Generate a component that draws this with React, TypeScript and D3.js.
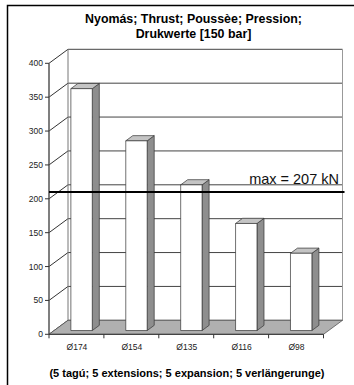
import React from "react";
import * as d3 from "d3";

const categories = ["Ø174", "Ø154", "Ø135", "Ø116", "Ø98"];
const values = [357, 280, 215, 158, 114];
const yTicks = [0, 50, 100, 150, 200, 250, 300, 350, 400];
const maxValue = 207;
const maxLabel = "max = 207 kN";
const titleLines = ["Nyomás; Thrust; Poussèe; Pression;", "Drukwerte [150 bar]"];
const footer = "(5 tagú; 5 extensions; 5 expansion; 5 verlängerunge)";

const W = 354;
const H = 385;
const DX = 19;
const DY = -14;
const FONT = "Liberation Sans, Arial, sans-serif";

export default function App() {
  const y = d3.scaleLinear().domain([0, 400]).range([334.3, 63.3]);
  const x = d3.scaleBand<string>().domain(categories).range([49, 323.5]).paddingInner(0).paddingOuter(0);
  const x0 = x.range()[0];
  const x1 = x.range()[1];
  const y0 = y(0);
  const yTop = y(400);

  const fFront = 0.27; // bar front depth fraction
  const fBack = 0.64; // bar back depth fraction
  const barW = x.bandwidth() * 0.39;

  const pts = (a: number[][]) => a.map((p) => p.join(",")).join(" ");

  const maxDepth = 0.15;
  const maxY = y(maxValue) + DY * maxDepth;

  return (
    <svg
      width={W}
      height={H}
      style={{ position: "absolute", left: 0, top: 0, background: "#fff" }}
      fontFamily={FONT}
    >
      {/* frame */}
      <rect x={7.5} y={5.5} width={W + 20} height={H + 20} fill="#fff" stroke="#000" strokeWidth={1.5} />

      {/* title */}
      {titleLines.map((t, i) => (
        <text key={t} x={193.5} y={23 + i * 14.5} textAnchor="middle" fontWeight="bold" fontSize={12.4} fill="#000">
          {t}
        </text>
      ))}

      {/* back wall */}
      <rect x={x0 + DX} y={yTop + DY} width={x1 - x0} height={y0 - yTop} fill="#fff" stroke="none" />
      {/* left wall */}
      <polygon points={pts([[x0, y0], [x0, yTop], [x0 + DX, yTop + DY], [x0 + DX, y0 + DY]])} fill="#fff" />

      {/* gridlines */}
      {yTicks.map((v) => (
        <g key={v}>
          <line x1={x0} y1={y(v)} x2={x0 + DX} y2={y(v) + DY} stroke="#333" strokeWidth={1} />
          <line x1={x0 + DX} y1={y(v) + DY} x2={x1 + DX} y2={y(v) + DY} stroke="#444" strokeWidth={1} />
        </g>
      ))}
      {/* back wall edges */}
      <line x1={x0 + DX} y1={yTop + DY} x2={x0 + DX} y2={y0 + DY} stroke="#777" strokeWidth={1} />
      <line x1={x1 + DX} y1={yTop + DY} x2={x1 + DX} y2={y0 + DY} stroke="#999" strokeWidth={1} />

      {/* floor */}
      <polygon
        points={pts([[x0, y0], [x1, y0], [x1 + DX, y0 + DY], [x0 + DX, y0 + DY]])}
        fill="#b0b0b0"
        stroke="#555"
        strokeWidth={0.8}
      />

      {/* bars */}
      {categories.map((c, i) => {
        const v = values[i];
        const cx = (x(c) as number) + x.bandwidth() / 2;
        const fx = cx - barW / 2 + DX * fFront;
        const fx2 = fx + barW;
        const bdx = DX * (fBack - fFront);
        const bdy = DY * (fBack - fFront);
        const fyTop = y(v) + DY * fFront;
        const fyBot = y(0) + DY * fFront;
        return (
          <g key={c} stroke="#333" strokeWidth={0.7} strokeLinejoin="round">
            <polygon points={pts([[fx2, fyBot], [fx2, fyTop], [fx2 + bdx, fyTop + bdy], [fx2 + bdx, fyBot + bdy]])} fill="#8e8e8e" />
            <polygon points={pts([[fx, fyTop], [fx2, fyTop], [fx2 + bdx, fyTop + bdy], [fx + bdx, fyTop + bdy]])} fill="#c4c4c4" />
            <rect x={fx} y={fyTop} width={barW} height={fyBot - fyTop} fill="#fff" />
          </g>
        );
      })}

      {/* y axis */}
      <line x1={x0} y1={yTop} x2={x0} y2={y0} stroke="#555" strokeWidth={1.5} />
      {yTicks.map((v) => (
        <g key={"t" + v}>
          <line x1={x0 - 4} y1={y(v)} x2={x0} y2={y(v)} stroke="#333" strokeWidth={1} />
          <text x={x0 - 6} y={y(v)} dy="0.35em" textAnchor="end" fontSize={8.5} fill="#222">
            {v}
          </text>
        </g>
      ))}

      {/* x axis */}
      <line x1={x0} y1={y0} x2={x1} y2={y0} stroke="#333" strokeWidth={1} />
      {[...categories.map((c) => x(c) as number), x1].map((bx, i) => (
        <line key={"xt" + i} x1={bx} y1={y0} x2={bx} y2={y0 + 4} stroke="#333" strokeWidth={1} />
      ))}
      {categories.map((c) => (
        <text key={"xl" + c} x={(x(c) as number) + x.bandwidth() / 2 + 0.5} y={350} textAnchor="middle" fontSize={8.5} fill="#222">
          {c}
        </text>
      ))}

      {/* max line */}
      <line x1={x0} y1={maxY} x2={x1 + DX + 2} y2={maxY} stroke="#000" strokeWidth={2} />
      <text x={339} y={maxY - 7.5} textAnchor="end" fontSize={14.5} fill="#111">
        {maxLabel}
      </text>

      {/* footer */}
      <text x={187} y={377} textAnchor="middle" fontWeight="bold" fontSize={11} fill="#000">
        {footer}
      </text>
    </svg>
  );
}
